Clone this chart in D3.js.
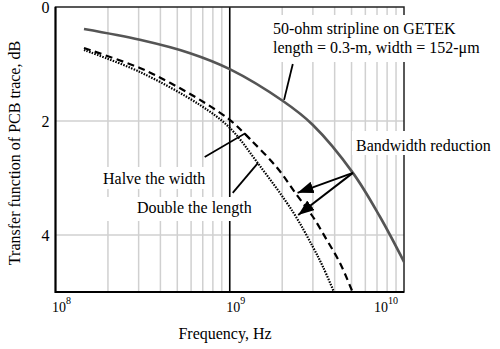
<!DOCTYPE html>
<html>
<head>
<meta charset="utf-8">
<script src="https://cdn.jsdelivr.net/npm/d3@7"></script>
<style>
  html, body { margin: 0; padding: 0; background: #fff; }
  svg { display: block; font-family: "Liberation Serif", "Times New Roman", serif; }
</style>
</head>
<body>
<svg id="chart" width="500" height="349"></svg>
<script>
// ---- Data ----
const baseFreq   = [1.457e8, 3.05e8, 5.92e8, 1e9, 2.02e9, 3.0e9, 5.09e9, 7.28e9, 1e10];
const baseDB     = [0.386, 0.575, 0.81, 1.09, 1.65, 2.07, 2.91, 3.68, 4.47];

const halveFreq  = [1.457e8, 3.05e8, 4.54e8, 6.75e8, 1e9, 1.31e9, 1.87e9, 2.43e9, 3.0e9, 3.61e9, 4.29e9, 5.05e9];
const halveDB    = [0.72, 1.07, 1.33, 1.63, 1.98, 2.32, 2.82, 3.30, 3.68, 4.09, 4.49, 4.99];

const doubleFreq = [1.457e8, 3.05e8, 6.75e8, 1e9, 1.45e9, 2.31e9, 3.0e9, 3.43e9, 3.95e9];
const doubleDB   = [0.754, 1.14, 1.72, 2.12, 2.74, 3.60, 4.21, 4.56, 4.99];

const xTickExp   = [8, 9, 10];
const yTicks     = [0, 2, 4];
const minorFreq  = [2e8,3e8,4e8,5e8,6e8,7e8,8e8,9e8,2e9,3e9,4e9,5e9,6e9,7e9,8e9,9e9];

const xTitle = "Frequency, Hz";
const yTitle = "Transfer function of PCB trace, dB";
const noteBase   = ["50-ohm stripline on GETEK", "length = 0.3-m, width = 152-\u03bcm"];
const noteHalve  = "Halve the width";
const noteDouble = "Double the length";
const noteBW     = "Bandwidth reduction";

// annotation anchor points in data units [freq, dB]
const ptrBase   = [[2.30e9, 1.0], [2.05e9, 1.63]];
const ptrHalve  = [[7.18e8, 2.63], [1.22e9, 2.22], [1.31e9, 2.32]];
const ptrDouble = [[1.04e9, 3.26], [1.45e9, 2.74]];
const arrowFrom = [5.09e9, 2.91];
const arrowTo   = [[2.45e9, 3.26], [2.47e9, 3.65]];

// ---- Chart ----
const svg = d3.select("#chart");
const L = 55.5, R = 404, T = 7, B = 292;
const x = d3.scaleLog().domain([1e8, 1e10]).range([L, R]);
const y = d3.scaleLinear().domain([0, 5]).range([T, B]);

// grid
const grid = svg.append("g");
grid.selectAll("line.v").data(minorFreq).join("line")
  .attr("x1", d => x(d)).attr("x2", d => x(d)).attr("y1", T).attr("y2", B)
  .attr("stroke", "#d0d0d0").attr("stroke-width", 1.5);
grid.selectAll("line.h").data(yTicks.filter(d => d > 0)).join("line")
  .attr("x1", L).attr("x2", R).attr("y1", d => y(d)).attr("y2", d => y(d))
  .attr("stroke", "#d0d0d0").attr("stroke-width", 1.5);
// 10^9 black line
svg.append("line").attr("x1", x(1e9)).attr("x2", x(1e9)).attr("y1", T).attr("y2", B)
  .attr("stroke", "#000").attr("stroke-width", 1.6);

// frame
svg.append("rect").attr("x", L).attr("y", T).attr("width", R - L).attr("height", B - T)
  .attr("fill", "none").attr("stroke", "#222").attr("stroke-width", 1.5);
svg.append("path").attr("d", `M${L},${T}V${B}H${R}`).attr("fill", "none")
  .attr("stroke", "#000").attr("stroke-width", 2);

// white boxes behind annotation text
const boxes = svg.append("g");
const texts = svg.append("g").attr("font-size", 16).attr("fill", "#000");

function addNote(lines, tx, ty, lh, pad) {
  const t = texts.append("text").attr("x", tx).attr("y", ty);
  lines.forEach((s, i) => t.append("tspan").attr("x", tx).attr("dy", i ? lh : 0).text(s));
  const bb = t.node().getBBox();
  boxes.append("rect").attr("x", bb.x - pad[0]).attr("y", bb.y - pad[1])
    .attr("width", bb.width + pad[0] + pad[2]).attr("height", bb.height + pad[1] + pad[3])
    .attr("fill", "#fff");
}
addNote(noteBase, 273, 34, 19, [5, 5, 5, 5]);
addNote([noteHalve], 103, 184, 0, [4, 3, 4, 2]);
addNote([noteDouble], 137, 213, 0, [35, 2, 4, 4]);
addNote([noteBW], 356, 151, 0, [4, 6, 6, 1]);

// curves
const line = d3.line().x(d => x(d[0])).y(d => y(d[1])).curve(d3.curveCatmullRom.alpha(0.5));
svg.append("path").datum(d3.zip(baseFreq, baseDB)).attr("d", line)
  .attr("fill", "none").attr("stroke", "#555").attr("stroke-width", 2.6);
svg.append("path").datum(d3.zip(halveFreq, halveDB)).attr("d", line)
  .attr("fill", "none").attr("stroke", "#000").attr("stroke-width", 2.2)
  .attr("stroke-dasharray", "7,4.5");
svg.append("path").datum(d3.zip(doubleFreq, doubleDB)).attr("d", line)
  .attr("fill", "none").attr("stroke", "#000").attr("stroke-width", 2.2)
  .attr("stroke-dasharray", "1.5,1.3");

// pointers
const pline = d3.line().x(d => x(d[0])).y(d => y(d[1]));
[ptrBase, ptrHalve, ptrDouble].forEach(p => {
  svg.append("path").attr("d", pline(p)).attr("fill", "none")
    .attr("stroke", "#000").attr("stroke-width", 1.8);
});

// arrows
const defs = svg.append("defs");
defs.append("marker").attr("id", "ah").attr("markerUnits", "userSpaceOnUse")
  .attr("markerWidth", 18).attr("markerHeight", 12).attr("refX", 16).attr("refY", 6)
  .attr("orient", "auto")
  .append("path").attr("d", "M0,0L16,6L0,12Z").attr("fill", "#000");
arrowTo.forEach(p => {
  svg.append("line").attr("x1", x(arrowFrom[0])).attr("y1", y(arrowFrom[1]))
    .attr("x2", x(p[0])).attr("y2", y(p[1]))
    .attr("stroke", "#000").attr("stroke-width", 2).attr("marker-end", "url(#ah)");
});

// y axis labels
const yAxis = d3.axisLeft(y).tickValues(yTicks).tickSize(0).tickPadding(6).tickFormat(d3.format("d"));
const ya = svg.append("g").attr("transform", `translate(${L},0)`).call(yAxis);
ya.select(".domain").remove();
ya.selectAll("text").attr("font-size", 16).attr("font-family", "Liberation Serif").attr("fill", "#000");

// x axis labels 10^n
const xl = svg.append("g").attr("font-size", 14).attr("fill", "#000");
xTickExp.forEach((e, i) => {
  const px = x(Math.pow(10, e));
  const t = xl.append("text").attr("y", 312);
  t.append("tspan").text("10");
  t.append("tspan").attr("font-size", 10).attr("dy", -8).text(e);
  if (i === xTickExp.length - 1) t.attr("x", px - 6).attr("text-anchor", "end");
  else t.attr("x", px - 3.5);
});

// axis titles
svg.append("text").attr("x", 225).attr("y", 339).attr("text-anchor", "middle")
  .attr("font-size", 16).text(xTitle);
svg.append("text").attr("transform", `translate(20,153) rotate(-90)`)
  .attr("text-anchor", "middle").attr("font-size", 16).text(yTitle);
</script>
</body>
</html>
